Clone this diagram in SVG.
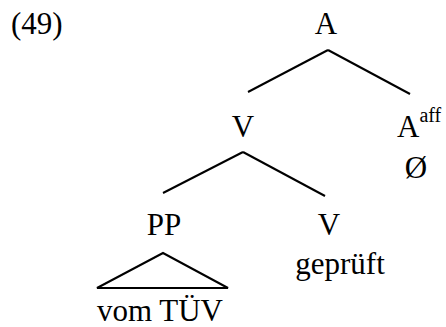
<svg xmlns="http://www.w3.org/2000/svg" width="446" height="327" viewBox="0 0 446 327">
<style>
text{font-family:"Liberation Serif","Times New Roman",serif;font-size:31px;fill:#000}
.m{text-anchor:middle}
.sup{font-size:20px}
line,polygon{stroke:#000;stroke-width:2;fill:none;stroke-linecap:butt}
</style>
<rect width="446" height="327" fill="#fff"/>
<text id="ex" x="11" y="34">(49)</text>
<g id="connectors">
<line x1="328" y1="50" x2="248" y2="92"/>
<line x1="328" y1="50" x2="410" y2="94"/>
<line x1="243" y1="152" x2="163" y2="193"/>
<line x1="243" y1="152" x2="325" y2="196"/>
</g>
<g id="nA"><text class="m" x="326" y="34">A</text></g>
<g id="nV"><text class="m" x="243" y="137">V</text></g>
<g id="nAaff"><text x="397" y="137">A<tspan class="sup" dy="-15">aff</tspan></text><text class="m" x="416" y="178">Ø</text></g>
<g id="nPP"><text class="m" x="164" y="235">PP</text><polygon points="163,253 97,288 228,288"/><text class="m" x="160" y="321">vom TÜV</text></g>
<g id="nV2"><text class="m" x="329" y="235">V</text><text class="m" x="340" y="274">geprüft</text></g>
</svg>
